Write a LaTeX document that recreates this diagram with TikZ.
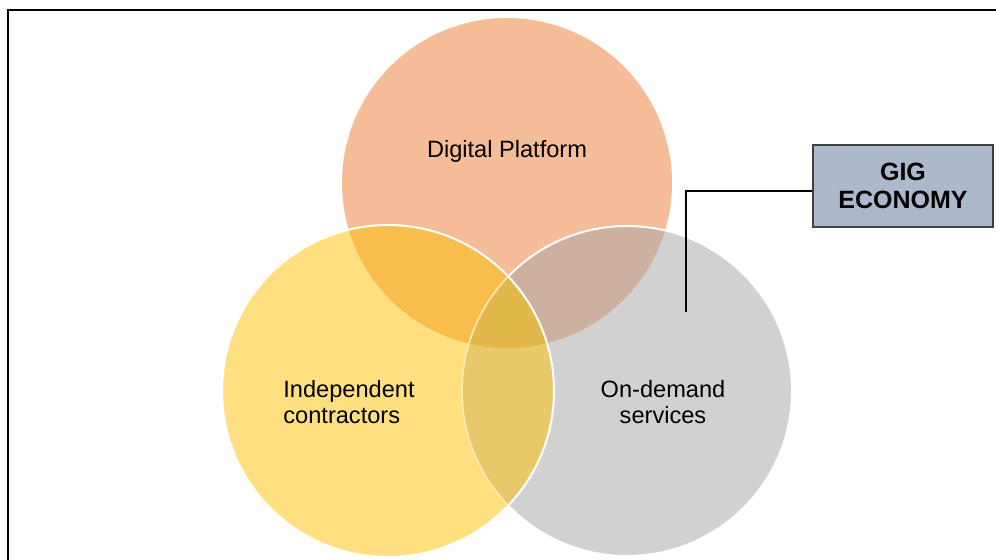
\documentclass[tikz,border=0pt]{standalone}
\usepackage{fontspec}
\setmainfont{Liberation Sans}
\usepackage{tikz}
\usetikzlibrary{positioning}

\definecolor{platform}{HTML}{F5BC98}
\definecolor{contract}{HTML}{FFDF80}
\definecolor{demand}{HTML}{D1D1D1}
\definecolor{platcon}{HTML}{F9BD4B}
\definecolor{platdem}{HTML}{CDB09F}
\definecolor{condem}{HTML}{E8C969}
\definecolor{allthree}{HTML}{E3B84A}
\definecolor{gigblue}{HTML}{ADB9CA}

\begin{document}
\begin{tikzpicture}[x=0.5pt,y=0.5pt,
  label/.style={inner sep=0pt,font=\fontsize{11.8}{13}\selectfont},
  gigbox/.style={draw=black!75,line width=0.6pt,fill=gigblue,minimum width=90pt,minimum height=41pt,
    align=center,font=\fontsize{12.5}{14}\selectfont\bfseries}]
\useasboundingbox (0,0) rectangle (996,559);
\clip (0,0) rectangle (996,559);
%frame
\draw [line width=0.8pt] (8,549) rectangle (1010,-20);
\coordinate (ctop) at (507,376);
\coordinate (cleft) at (388,168);
\coordinate (cright) at (627,168);
% circles
\fill [platform] (ctop) circle (165);
\fill [demand] (cright) circle (165);
\begin{scope}
\clip (ctop) circle (165);
\fill [platdem] (cright) circle (165);
\end{scope}
\draw [white,line width=1pt] (cright) circle (165);
\fill [contract] (cleft) circle (166);
\begin{scope}
\clip (cleft) circle (166);
\fill [platcon] (ctop) circle (165);
\fill [condem] (cright) circle (165);
\clip (ctop) circle (165);
\fill [allthree] (cright) circle (165);
\end{scope}
\begin{scope}
\clip (cleft) circle (166);
\draw [contract!60,line width=0.8pt] (cright) circle (165);
\end{scope}
\draw [white,line width=1pt] (cleft) circle (166);
% labels
\node [label,anchor=base] (platlbl) at (507,402) {Digital Platform};
\node [label,align=left,anchor=west] (conlbl) at (283,157) {Independent\\contractors};
\node [label,align=center] (demlbl) at (663,157) {On-demand\\services};
% gig economy
\node [gigbox] (gig) at (903,373) {GIG\\ECONOMY};
\coordinate (bend) at (686,368);
\coordinate (tip) at (686,247);
\draw [line width=1pt] (gig.west |- bend) -- (bend) -- (tip);
\end{tikzpicture}
\end{document}
